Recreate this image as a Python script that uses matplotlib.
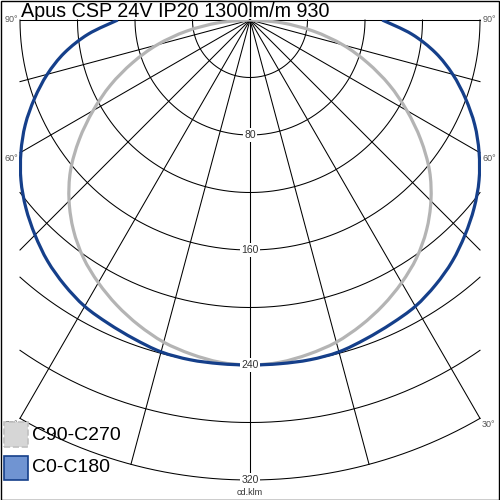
import numpy as np
import matplotlib.pyplot as plt
from matplotlib.patches import Rectangle, PathPatch
from matplotlib.path import Path

plt.rcParams['font.family'] = ['Liberation Sans', 'DejaVu Sans']

title = 'Apus CSP 24V IP20 1300lm/m 930'
unit = 'cd.klm'

# gamma angles (deg from nadir) and intensities in cd/klm
angles = [0, 5, 10, 15, 20, 25, 30, 35, 40, 45, 50, 55, 60, 65, 70, 75, 80, 85, 90]
c0_c180 = [240, 240, 240, 239, 236, 233, 230, 225, 219, 211.5, 203.5, 194.5, 184, 172.5, 159.5, 146, 131, 113, 92]
c90_c270 = [240, 239, 236, 232, 226, 219, 211, 202, 191, 178, 163, 145, 126, 107, 87, 67, 45, 22, 0]

ring_values = [40, 80, 120, 160, 200, 240, 280, 320]
ring_labels = [80, 160, 240, 320]
spoke_angles = [0, 15, 30, 45, 60, 75, 90]
angle_labels = [30, 60, 90]

rmax = 320
half_w = 160
scale = 230 / 160  # px per cd/klm

fig = plt.figure(figsize=(5, 5), dpi=100)
ax = fig.add_axes([0, 0, 1, 1])
ax.set_xlim(-250 / scale, 250 / scale)
ax.set_ylim(-480 / scale, 20 / scale)
ax.axis('off')

grid_kw = dict(color='black', lw=0.75, zorder=1)

# rings
for r in ring_values:
    tmax = 90.0 if r <= half_w else np.degrees(np.arcsin(half_w / r))
    t = np.radians(np.linspace(-tmax, tmax, 200))
    ax.plot(r * np.sin(t), -r * np.cos(t), **grid_kw)

# spokes
for a in spoke_angles:
    for s in (-1, 1):
        t = np.radians(a)
        if np.sin(t) > 0:
            length = min(rmax, half_w / np.sin(t))
        else:
            length = rmax
        ax.plot([0, s * length * np.sin(t)], [0, -length * np.cos(t)], **grid_kw)


def mirror(vals):
    th = np.radians(np.array(angles, dtype=float))
    r = np.array(vals, dtype=float)
    th = np.concatenate([-th[::-1], th[1:]])
    r = np.concatenate([r[::-1], r[1:]])
    return np.column_stack([r * np.sin(th), -r * np.cos(th)])


def smooth_path(pts):
    # curved path through the points (catmull-rom as cubic beziers)
    verts = [pts[0]]
    codes = [Path.MOVETO]
    n = len(pts)
    for i in range(n - 1):
        p0 = pts[max(i - 1, 0)]
        p1 = pts[i]
        p2 = pts[i + 1]
        p3 = pts[min(i + 2, n - 1)]
        verts += [p1 + (p2 - p0) / 6, p2 - (p3 - p1) / 6, p2]
        codes += [Path.CURVE4] * 3
    return Path(verts, codes)


clip = Rectangle((-half_w - 1, -rmax), 2 * half_w + 2, rmax + 0.01, transform=ax.transData)

for vals, col, z in [(c90_c270, '#b4b4b4', 3), (c0_c180, '#153f8a', 4)]:
    patch = PathPatch(smooth_path(mirror(vals)), fill=False, ec=col, lw=2.3, zorder=z,
                      capstyle='butt', joinstyle='round')
    ax.add_patch(patch)
    patch.set_clip_path(clip)

# ring labels
for v in ring_labels:
    ax.text(0, -v, str(v), ha='center', va='center', fontsize=7.5, color='#333333', zorder=5,
            bbox=dict(boxstyle='square,pad=0.15', fc='white', ec='none'))
ax.text(0, -328.5, unit, ha='center', va='center', fontsize=6.5, color='#333333', zorder=5)

# angle labels
for a in angle_labels:
    t = np.radians(a)
    yy = -half_w / np.tan(t) if a < 90 else 0
    off = 0 if a == 90 else -4
    ax.text(-half_w - 1.5, yy + off, f'{a}°', ha='right', va='center', fontsize=6.5, color='#555555')
    ax.text(half_w + 1.5, yy + off, f'{a}°', ha='left', va='center', fontsize=6.5, color='#555555')

# title
ax.text(-half_w + 0.5, 2.1, title, ha='left', va='baseline', fontsize=14.2, color='black')

# legend
fig.patches.append(Rectangle((4 / 500, 1 - 447 / 500), 24 / 500, 25 / 500, transform=fig.transFigure,
                             fc='#d6d6d6', ec='#c0c0c0', lw=1.2, ls='--', zorder=6))
fig.patches.append(Rectangle((4 / 500, 1 - 480 / 500), 24 / 500, 24 / 500, transform=fig.transFigure,
                             fc='#7094d2', ec='#153f8a', lw=1.2, zorder=6))
fig.text(32 / 500, 1 - 435 / 500, 'C90-C270', ha='left', va='center', fontsize=14)
fig.text(32 / 500, 1 - 468 / 500, 'C0-C180', ha='left', va='center', fontsize=14)

# outer frame
fig.patches.append(Rectangle((0.001, 0.001), 0.997, 0.997, transform=fig.transFigure,
                             fill=False, ec='black', lw=1))

fig.savefig('out.png', dpi=100)
